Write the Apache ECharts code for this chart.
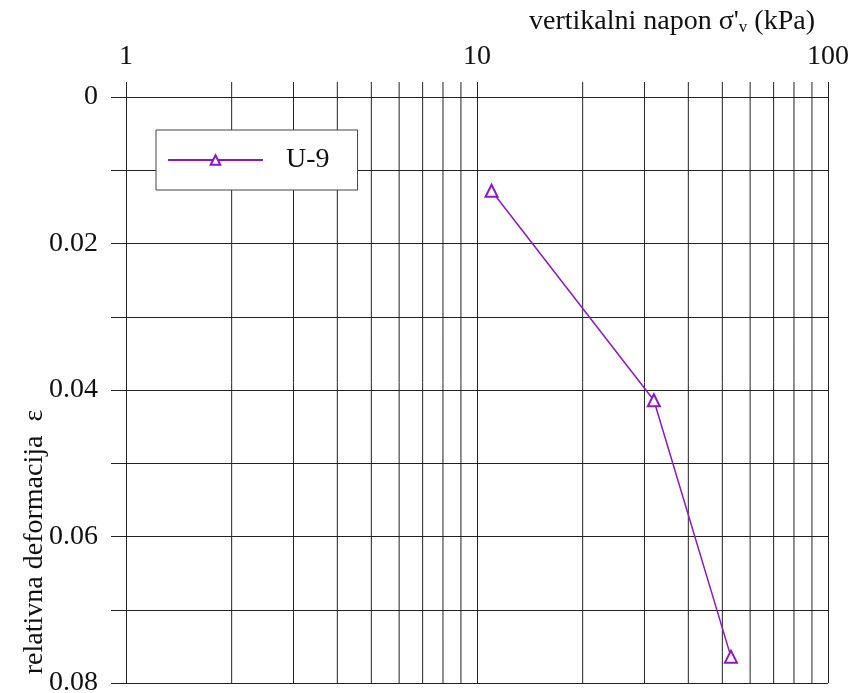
<!DOCTYPE html>
<html>
<head>
    <meta charset="utf-8">
    <title>U-9</title>
    <script src="https://cdn.jsdelivr.net/npm/echarts@6/dist/echarts.min.js"></script>
</head>
<body style="margin:0">
<div id="main" style="width: 848px;height:693px;"></div>
<script type="text/javascript">

    /* podaci ============================ */
    var seriesName = 'U-9';
    var sigma = [11.0, 31.9, 52.9];          // vertikalni napon (kPa)
    var epsilon = [0.0128, 0.0414, 0.0764];  // relativna deformacija
    var minorTicks = [2, 3, 4, 5, 6, 7, 8, 9, 20, 30, 40, 50, 60, 70, 80, 90];
    var yLabels = [0, 0.02, 0.04, 0.06, 0.08];

    var gridColor = '#222';
    var font = '"Liberation Serif", "DejaVu Serif", serif';
    var fs = 28;

    var points = sigma.map(function (s, i) { return [s, epsilon[i]]; });

    var myChart = echarts.init(document.getElementById('main'));

    myChart.setOption({
        animation: false,
        backgroundColor: '#fff',
        title: {
            text: "vertikalni napon σ'{sub|v} (kPa)",
            right: 28,
            top: 2,
            textStyle: {
                fontFamily: font,
                fontSize: fs,
                fontWeight: 'normal',
                color: '#111',
                rich: {
                    sub: {fontFamily: font, fontSize: 17, color: '#111', padding: [12, 0, 0, 0]}
                }
            }
        },
        graphic: [{
            type: 'text',
            x: 35,
            y: 542,
            rotation: Math.PI / 2,
            style: {
                text: 'relativna deformacija  ε',
                font: fs + 'px ' + font,
                fill: '#111',
                textAlign: 'center',
                textVerticalAlign: 'middle'
            }
        }],
        legend: {
            data: [seriesName],
            left: 156,
            top: 130,
            padding: [16, 28, 16, 11],
            itemWidth: 95,
            itemHeight: 12,
            borderColor: '#444',
            borderWidth: 1,
            backgroundColor: '#fff',
            textStyle: {fontFamily: font, fontSize: fs, color: '#111', lineHeight: 28, padding: [0, 0, 0, 18]}
        },
        grid: {left: 126, top: 97, right: 20, bottom: 10, outerBoundsMode: 'none', containLabel: false},
        xAxis: {
            type: 'log',
            logBase: 10,
            position: 'top',
            min: 1,
            max: 100,
            axisLine: {show: true, lineStyle: {color: gridColor}},
            axisTick: {show: true, length: 15, lineStyle: {color: gridColor}},
            axisLabel: {fontFamily: font, fontSize: fs, color: '#111', margin: 26},
            splitLine: {show: true, lineStyle: {color: gridColor}}
        },
        yAxis: {
            type: 'value',
            inverse: true,
            min: 0,
            max: 0.08,
            interval: 0.01,
            axisLine: {show: true, lineStyle: {color: gridColor}},
            axisTick: {show: true, length: 15, lineStyle: {color: gridColor}},
            axisLabel: {
                fontFamily: font, fontSize: fs, color: '#111', margin: 28,
                formatter: function (v) {
                    var hit = yLabels.filter(function (l) { return Math.abs(l - v) < 1e-9; });
                    return hit.length ? String(hit[0]) : '';
                }
            },
            splitLine: {show: true, lineStyle: {color: gridColor}}
        },
        series: [
            {
                // pomoćne linije 2..9, 20..90 (log mreža)
                type: 'custom',
                silent: true,
                clip: false,
                z: 1,
                data: minorTicks.map(function (t) { return [t]; }),
                encode: {x: 0},
                renderItem: function (params, api) {
                    var v = api.value(0);
                    var a = api.coord([v, 0]);
                    var b = api.coord([v, 0.08]);
                    return {
                        type: 'line',
                        shape: {x1: a[0], y1: a[1] - 15, x2: b[0], y2: b[1]},
                        style: {stroke: gridColor, lineWidth: 1}
                    };
                }
            },
            {
                name: seriesName,
                type: 'line',
                z: 3,
                data: points,
                symbol: 'emptyTriangle',
                symbolSize: 12,
                color: '#8e17c9',
                lineStyle: {width: 1.5, color: '#8e17c9'},
                itemStyle: {borderWidth: 1.5, color: '#8e17c9'}
            }
        ]
    });

</script>
</body>
</html>
